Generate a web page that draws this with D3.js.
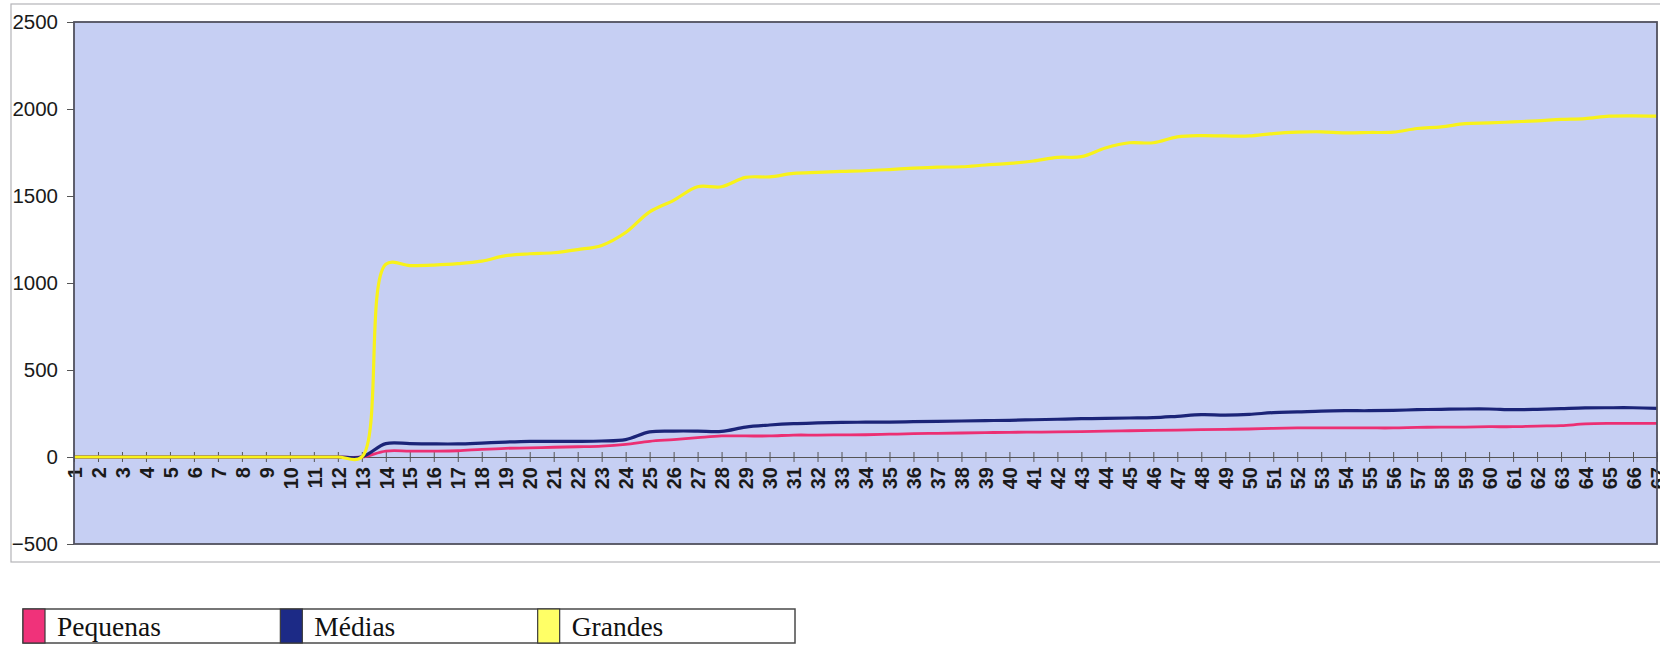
<!DOCTYPE html>
<html>
<head>
<meta charset="utf-8">
<script src="https://cdn.jsdelivr.net/npm/d3@7"></script>
<style>
  html, body { margin: 0; padding: 0; background: #ffffff; }
  svg { display: block; }
</style>
</head>
<body>
<svg id="chart" width="1660" height="645"></svg>
<script>
// Categories 1..67 along the horizontal axis
const categories = [
  "1","2","3","4","5","6","7","8","9","10","11","12","13","14","15","16","17","18","19","20",
  "21","22","23","24","25","26","27","28","29","30","31","32","33","34","35","36","37","38","39","40",
  "41","42","43","44","45","46","47","48","49","50","51","52","53","54","55","56","57","58","59","60",
  "61","62","63","64","65","66","67"
];

const pequenas = [
  0,0,0,0,0,0,0,0,0,0,0,0,0,
  34,34,34,36,44,50,52,56,59,63,73,90,100,111,121,121,121,126,126,127,128,131,134,136,138,140,142,
  143,144,146,149,151,153,155,157,159,161,165,167,167,167,167,167,170,172,172,174,174,178,180,190,193,193,193
];

const medias = [
  0,0,0,0,0,0,0,0,0,0,0,0,0,
  77,77,75,75,80,86,90,90,90,92,100,144,149,149,147,172,184,192,196,199,200,201,203,205,207,209,211,
  214,217,220,222,224,226,234,243,241,245,255,259,264,266,266,268,272,274,276,276,272,274,278,282,283,283,280
];

const grandes = [
  0,0,0,0,0,0,0,0,0,0,0,0,0,
  1108,1100,1103,1111,1126,1157,1168,1174,1192,1216,1290,1409,1475,1553,1553,1607,1610,1630,1636,1641,1645,1652,
  1660,1666,1668,1678,1687,1701,1722,1726,1776,1806,1806,1840,1847,1845,1845,1859,1867,1869,1863,1865,1867,1888,
  1897,1916,1920,1926,1932,1940,1945,1959,1961,1959
];

const yTicks = [-500, 0, 500, 1000, 1500, 2000, 2500];

const seriesNames = ["Pequenas", "Médias", "Grandes"];
const seriesColors = ["#ec2f73", "#1b2478", "#f8f21a"];
const swatchColors = ["#f0327a", "#1c2a86", "#ffff66"];
const seriesData = [pequenas, medias, grandes];

const svg = d3.select("#chart");

const plot = { left: 74, right: 1657, top: 22, bottom: 544 };

// Outer chart frame
svg.append("rect")
  .attr("x", 11).attr("y", 4)
  .attr("width", 1700).attr("height", 558)
  .attr("fill", "#ffffff")
  .attr("stroke", "#b4b4b8").attr("stroke-width", 1.2);

const x = d3.scalePoint().domain(categories).range([plot.left, plot.right]);
const y = d3.scaleLinear().domain([-500, 2500]).range([plot.bottom, plot.top]);

// Plot area background
svg.append("rect")
  .attr("x", plot.left).attr("y", plot.top)
  .attr("width", plot.right - plot.left).attr("height", plot.bottom - plot.top)
  .attr("fill", "#c6cff3");

// Value axis
const yAxis = svg.append("g")
  .attr("transform", `translate(${plot.left},0)`)
  .call(d3.axisLeft(y).tickValues(yTicks).tickSize(7).tickPadding(9).tickFormat(d3.format("d")));
yAxis.select(".domain").remove();
yAxis.selectAll(".tick line").attr("stroke", "#555");
yAxis.selectAll(".tick text")
  .attr("fill", "#1a1a1a")
  .style("font-family", "'Liberation Sans', Arial, sans-serif")
  .style("font-size", "20.5px");

// Category axis on the zero line, with cross tick marks
const xAxis = svg.append("g")
  .attr("transform", `translate(0,${y(0)})`)
  .call(d3.axisBottom(x).tickSize(5).tickSizeOuter(0));
xAxis.select(".domain").attr("stroke", "#555").attr("stroke-width", 1.2);
xAxis.selectAll(".tick line")
  .attr("y1", -5).attr("y2", 5)
  .attr("stroke", "#555");
xAxis.selectAll(".tick text")
  .attr("transform", "rotate(-90)")
  .attr("text-anchor", "end")
  .attr("x", -10).attr("y", 0).attr("dy", "0.36em")
  .attr("fill", "#1a1a1a")
  .style("font-family", "'Liberation Sans', Arial, sans-serif")
  .style("font-weight", "bold")
  .style("font-size", "20px");

// Series lines (smoothed)
const line = d3.line()
  .x((d, i) => x(categories[i]))
  .y(d => y(d))
  .curve(d3.curveCatmullRom.alpha(0.5));

svg.append("clipPath").attr("id", "plot-clip")
  .append("rect")
  .attr("x", plot.left).attr("y", plot.top)
  .attr("width", plot.right - plot.left).attr("height", plot.bottom - plot.top);

const lines = svg.append("g").attr("clip-path", "url(#plot-clip)");
seriesData.forEach((vals, k) => {
  lines.append("path")
    .datum(vals)
    .attr("fill", "none")
    .attr("stroke", seriesColors[k])
    .attr("stroke-width", k === 0 ? 2.8 : 3.2)
    .attr("stroke-linejoin", "round")
    .attr("d", line);
});

// Plot area border
svg.append("rect")
  .attr("x", plot.left).attr("y", plot.top)
  .attr("width", plot.right - plot.left).attr("height", plot.bottom - plot.top)
  .attr("fill", "none")
  .attr("stroke", "#50505e").attr("stroke-width", 1.8);

// Legend
const legend = { x: 23, y: 609, w: 772, h: 34 };
const legendG = svg.append("g");
legendG.append("rect")
  .attr("x", legend.x).attr("y", legend.y)
  .attr("width", legend.w).attr("height", legend.h)
  .attr("fill", "#ffffff")
  .attr("stroke", "#4a4a4a").attr("stroke-width", 1.5);

const cellW = legend.w / seriesNames.length;
seriesNames.forEach((name, k) => {
  const cx = legend.x + k * cellW;
  legendG.append("rect")
    .attr("x", cx).attr("y", legend.y)
    .attr("width", 22).attr("height", legend.h)
    .attr("fill", swatchColors[k])
    .attr("stroke", "#3a3a3a").attr("stroke-width", 1.2);
  legendG.append("text")
    .attr("x", cx + 34).attr("y", legend.y + 27)
    .attr("fill", "#111")
    .style("font-family", "'Liberation Serif', 'Times New Roman', serif")
    .style("font-size", "27.5px")
    .text(name);
});
</script>
</body>
</html>
